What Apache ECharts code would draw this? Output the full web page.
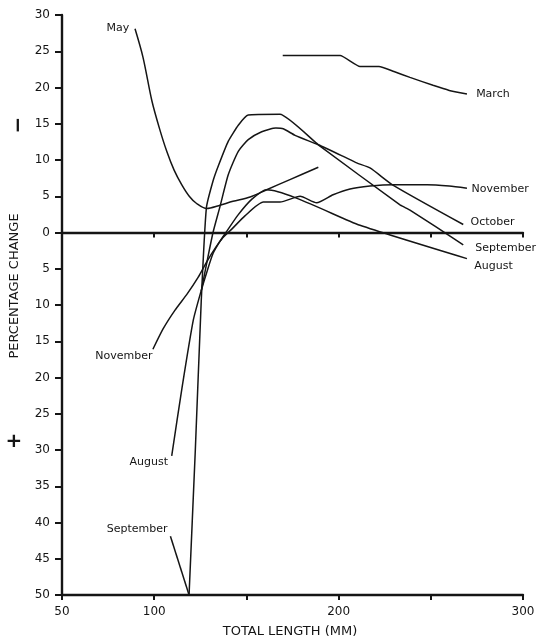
<!DOCTYPE html>
<html><head><meta charset="utf-8">
<script src="https://cdn.jsdelivr.net/npm/echarts@6/dist/echarts.min.js"></script>
<style>html,body{margin:0;padding:0;background:#fff}#c{width:539px;height:640px}</style>
</head><body><div id="c"></div>
<script>
// ---- data ----
const xLabelsShown = [50, 100, 200, 300];
const may = [[89.6,28.1],[93.9,24.2],[98.8,18.1],[102.8,14.4],[106.8,11.2],[110.8,8.6],[114.9,6.6],[119,5.0],[123,4.0],[128.5,3.3],[135,3.7],[142.7,4.3],[152,4.9],[161,5.9],[173.6,7.3],[189,9.0]];
const march = [[169.7,24.4],[200.8,24.4],[211.6,22.9],[221.9,22.9],[230,22.2],[238.7,21.4],[251.2,20.3],[260,19.6],[269.6,19.1]];
const september = [[118.9,-50],[122.3,-30],[125.5,-9.5],[128.3,3.4],[131.9,7.1],[134.8,9.2],[140.2,12.6],[145.6,14.8],[151,16.2],[168.2,16.3],[189,12.1],[233.3,3.8],[238.7,3.1],[267.6,-1.7]];
const october = [[125.5,-8.1],[128.5,-4.2],[131.9,0],[135.7,3.6],[140.2,8.0],[145.6,11.2],[151,12.8],[158.3,13.9],[166,14.4],[170,14.3],[176.4,13.4],[189,12.1],[202.5,10.5],[209.8,9.6],[217,8.9],[229.7,6.5],[267.6,1.1]];
const november = [[99.3,-16.1],[104.8,-13.3],[111.3,-10.7],[117.8,-8.5],[123.8,-6.2],[128.6,-4.0],[133,-2.2],[137.3,-0.7],[142.2,0.5],[149.2,2.3],[159.2,4.2],[168.2,4.2],[179.1,5.0],[188.1,4.1],[197,5.2],[206.2,6.0],[217,6.4],[229.5,6.6],[248,6.6],[260,6.4],[269.6,6.1]];
const august = [[109.5,-30.8],[115.1,-21.4],[121.2,-12.1],[125.4,-8.1],[128.6,-5.4],[131.9,-2.9],[135.7,-1.2],[138.9,0],[145.4,2.4],[153,4.6],[161,5.9],[211.6,1.0],[269.6,-3.6]];
// label anchors [x, y, text, side]
const labelsMay = [[87.5,28.2,'May','left']];
const labelsMarch = [[273.5,19.1,'March','right']];
const labelsNovember = [[271,6.0,'November','right'],[100.2,-17.0,'November','left']];
const labelsOctober = [[270.5,1.4,'October','right']];
const labelsSeptember = [[273,-2.1,'September','right'],[108.3,-40.9,'September','left']];
const labelsAugust = [[272.5,-4.7,'August','right'],[108.6,-31.7,'August','left']];
const septemberLeader = [[108.8,-41.9],[118.9,-50]];

const FONT = 'DejaVu Sans';
const INK = '#151515';
function mp(list){
  return {symbol:'circle',symbolSize:0,silent:true,animation:false,
    data:list.map(l=>({coord:[l[0],l[1]],label:{show:true,position:l[3],distance:2,formatter:l[2],color:INK,fontSize:11,fontFamily:FONT}}))};
}
function line(name,data,lbls,smooth,extra){
  return Object.assign({type:'line',name,data,showSymbol:false,symbol:'none',smooth:smooth,
    lineStyle:{color:INK,width:1.5},xAxisIndex:0,yAxisIndex:0,markPoint:mp(lbls),z:3},extra||{});
}
const chart = echarts.init(document.getElementById('c'),null,{renderer:'canvas'});
const axisLineStyle = {color:INK,width:2.4};
chart.setOption({
  animation:false,
  grid:{left:62,right:16,top:15,bottom:45,containLabel:false},
  xAxis:[
    {type:'value',min:50,max:300,interval:50,position:'bottom',
     axisLine:{show:true,onZero:false,lineStyle:axisLineStyle},
     axisTick:{show:true,length:5,lineStyle:{color:INK,width:2}},
     axisLabel:{margin:11,fontSize:12,fontFamily:FONT,color:INK,
       formatter:v=>xLabelsShown.indexOf(v)>=0?String(v):''},
     splitLine:{show:false}},
    {type:'value',min:50,max:300,interval:50,position:'top',
     axisLine:{show:true,onZero:true,lineStyle:axisLineStyle},
     axisTick:{show:true,inside:true,length:5,lineStyle:{color:INK,width:2}},
     axisLabel:{show:false},splitLine:{show:false}}
  ],
  yAxis:{type:'value',min:-50,max:30,interval:5,position:'left',
    axisLine:{show:true,onZero:false,lineStyle:axisLineStyle},
    axisTick:{show:true,length:7,lineStyle:{color:INK,width:2}},
    axisLabel:{margin:12,fontSize:12,fontFamily:FONT,color:INK,formatter:v=>String(Math.abs(v))},
    splitLine:{show:false}},
  series:[
    line('May',may,labelsMay,0.3),
    line('March',march,labelsMarch,0.15),
    line('September',september,labelsSeptember,0.15,{
      markLine:{silent:true,symbol:['none','none'],animation:false,label:{show:false},
        lineStyle:{color:INK,width:1.5,type:'solid'},
        data:[[{coord:septemberLeader[0]},{coord:septemberLeader[1]}]]}}),
    line('October',october,labelsOctober,0.2),
    line('November',november,labelsNovember,0.2),
    line('August',august,labelsAugust,0.2)
  ],
  graphic:[
    {type:'text',x:15,y:286,rotation:Math.PI/2,style:{text:'PERCENTAGE CHANGE',font:'13px "DejaVu Sans"',fill:INK,textAlign:'center',textVerticalAlign:'middle'}},
    {type:'text',x:290,y:632,style:{text:'TOTAL LENGTH (MM)',font:'13px "DejaVu Sans"',fill:INK,textAlign:'center',textVerticalAlign:'middle'}},
    {type:'text',x:19,y:125,rotation:Math.PI/2,style:{text:'−',font:'bold 20px "DejaVu Sans"',fill:INK,textAlign:'center',textVerticalAlign:'middle'}},
    {type:'text',x:14,y:442,style:{text:'+',font:'bold 20px "DejaVu Sans"',fill:INK,textAlign:'center',textVerticalAlign:'middle'}}
  ]
});
</script></body></html>
